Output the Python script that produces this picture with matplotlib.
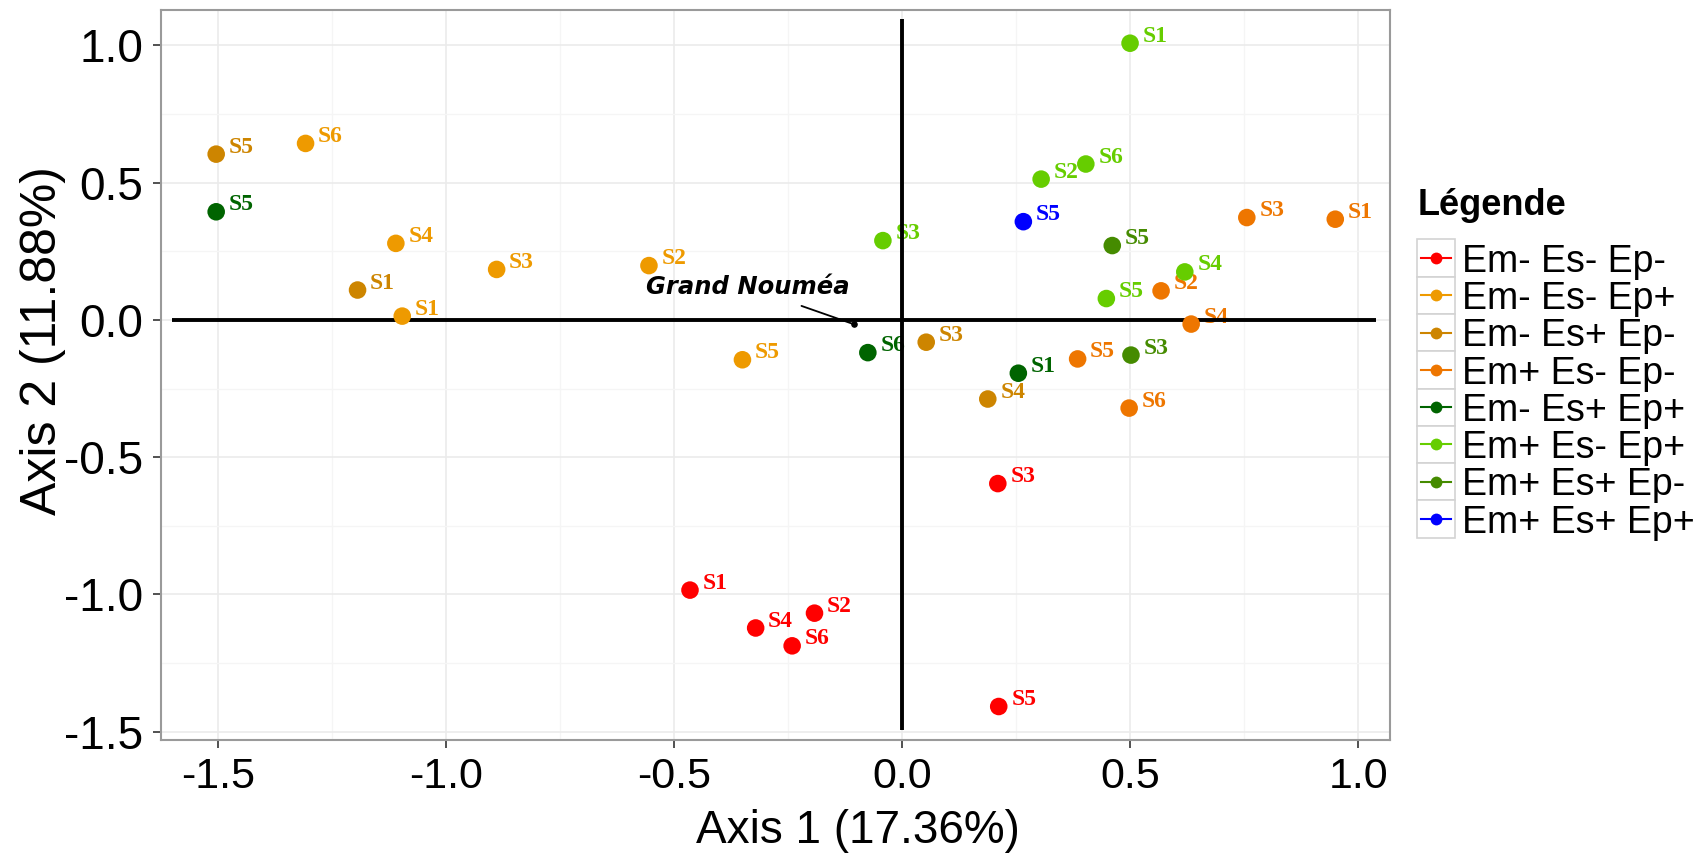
import matplotlib
matplotlib.use("Agg")
import matplotlib.pyplot as plt
from matplotlib.patches import Rectangle
import numpy as np

plt.rcParams['font.family'] = ['Liberation Sans', 'DejaVu Sans']
plt.rcParams['axes.unicode_minus'] = False

# groups of the legend and their colours
groups = ['Em- Es- Ep-', 'Em- Es- Ep+', 'Em- Es+ Ep-', 'Em+ Es- Ep-',
          'Em- Es+ Ep+', 'Em+ Es- Ep+', 'Em+ Es+ Ep-', 'Em+ Es+ Ep+']
colors = ['#FF0000', '#EE9A00', '#CD8500', '#EE7600',
          '#006400', '#66CD00', '#458B00', '#0000FF']

# one row per point: group index, site label, axis 1, axis 2
grp = [0, 0, 0, 0, 0, 0,
       1, 1, 1, 1, 1, 1,
       2, 2, 2, 2,
       3, 3, 3, 3, 3, 3,
       4, 4, 4,
       5, 5, 5, 5, 5, 5,
       6, 6,
       7]
site = ['S1', 'S2', 'S3', 'S4', 'S5', 'S6',
        'S1', 'S2', 'S3', 'S4', 'S5', 'S6',
        'S1', 'S3', 'S4', 'S5',
        'S1', 'S2', 'S3', 'S4', 'S5', 'S6',
        'S1', 'S5', 'S6',
        'S1', 'S2', 'S3', 'S4', 'S5', 'S6',
        'S3', 'S5',
        'S5']
ax1 = [-0.465, -0.192, 0.210, -0.321, 0.212, -0.241,
       -1.096, -0.555, -0.889, -1.110, -0.350, -1.308,
       -1.194, 0.053, 0.188, -1.504,
       0.950, 0.568, 0.756, 0.634, 0.385, 0.498,
       0.255, -1.504, -0.075,
       0.500, 0.305, -0.042, 0.620, 0.448, 0.403,
       0.502, 0.461,
       0.266]
ax2 = [-0.984, -1.068, -0.596, -1.122, -1.408, -1.187,
       0.014, 0.198, 0.184, 0.279, -0.145, 0.643,
       0.109, -0.081, -0.288, 0.604,
       0.367, 0.106, 0.373, -0.015, -0.142, -0.321,
       -0.194, 0.394, -0.119,
       1.008, 0.513, 0.289, 0.175, 0.078, 0.568,
       -0.128, 0.271,
       0.358]

# centroid of Grand Nouméa and its label position
gn_name = 'Grand Nouméa'
gn_x, gn_y = -0.105, -0.016
gn_lx, gn_ly = -0.339, 0.120

# extents of the two origin lines
hline_x = (-1.60, 1.04)
vline_y = (-1.493, 1.098)

xticks = [-1.5, -1.0, -0.5, 0.0, 0.5, 1.0]
yticks = [-1.5, -1.0, -0.5, 0.0, 0.5, 1.0]

W, H = 1704, 857
fig = plt.figure(figsize=(W / 100, H / 100), dpi=100)
ax = fig.add_axes([161 / W, 1 - 740 / H, (1390 - 161) / W, (740 - 10) / H])

ax.set_xticks(xticks)
ax.set_xticklabels([f'{t:.1f}' for t in xticks])
ax.set_yticks(yticks)
ax.set_yticklabels([f'{t:.1f}' for t in yticks])
ax.set_xticks([t + 0.25 for t in xticks[:-1]], minor=True)
ax.set_yticks([t + 0.25 for t in yticks[:-1]], minor=True)
ax.grid(which='major', color='#EBEBEB', linewidth=1.2, zorder=0)
ax.grid(which='minor', color='#F5F5F5', linewidth=1.0, zorder=0)
ax.set_axisbelow(True)
ax.tick_params(which='major', length=6, width=1.2, color='#333333',
               labelcolor='black')
ax.tick_params(axis='x', which='major', labelsize=31, pad=6)
ax.tick_params(axis='y', which='major', labelsize=33, pad=7)
ax.tick_params(which='minor', length=0)
for s in ax.spines.values():
    s.set_color('#9A9A9A')
    s.set_linewidth(1.5)

# origin lines
ax.plot(hline_x, [0, 0], color='black', lw=2.8, zorder=2, solid_capstyle='butt')
ax.plot([0, 0], vline_y, color='black', lw=2.8, zorder=2, solid_capstyle='butt')

grp = np.array(grp)
ax1 = np.array(ax1)
ax2 = np.array(ax2)
for g, col in enumerate(colors):
    m = grp == g
    ax.scatter(ax1[m], ax2[m], s=160, color=col, edgecolors='none', zorder=3)

for g, lab, x, y in zip(grp, site, ax1, ax2):
    ax.annotate(lab, (x, y), xytext=(9, 5), textcoords='offset points',
                ha='left', va='center', color=colors[g], fontsize=17,
                fontweight='bold', family='Liberation Serif', zorder=1.5)

# Grand Nouméa
ax.scatter([gn_x], [gn_y], s=14, color='black', zorder=4)
ax.annotate(gn_name, (gn_x, gn_y), xytext=(gn_lx, gn_ly),
            textcoords='data', ha='center', va='center', fontsize=17.5,
            fontweight='bold', fontstyle='italic', family='DejaVu Sans',
            arrowprops=dict(arrowstyle='-', color='black', lw=1.3,
                            shrinkA=9, shrinkB=0), zorder=4)

ax.set_xlim(-1.625, 1.070)
ax.set_ylim(-1.530, 1.129)

fig.text(858 / W, 1 - 843 / H, 'Axis 1 (17.36%)', ha='center', va='baseline',
         fontsize=33)
fig.text(43 / W, 1 - 341 / H, 'Axis 2 (11.88%)', ha='center', va='center',
         rotation=90, fontsize=36)

# legend drawn in pixel space
lg = fig.add_axes([0, 0, 1, 1])
lg.set_xlim(0, W)
lg.set_ylim(H, 0)
lg.axis('off')
lg.patch.set_alpha(0)
lg.text(1418, 215, 'Légende', fontsize=26, fontweight='bold',
        ha='left', va='baseline')
key_x, key_top, key_w, key_h = 1417, 239.3, 37.7, 37.3
for i, (name, col) in enumerate(zip(groups, colors)):
    y0 = key_top + i * key_h
    lg.add_patch(Rectangle((key_x, y0), key_w, key_h, facecolor='white',
                           edgecolor='#D3D3D3', lw=1.2))
    yc = y0 + key_h / 2
    lg.plot([key_x + 4, key_x + key_w - 4], [yc, yc], color=col, lw=1.5)
    lg.plot([key_x + key_w / 2], [yc], 'o', color=col, ms=8.5, mec='none')
    lg.text(1462, yc + 13.7, name, fontsize=27, ha='left', va='baseline')

fig.savefig('out.png', dpi=100)
